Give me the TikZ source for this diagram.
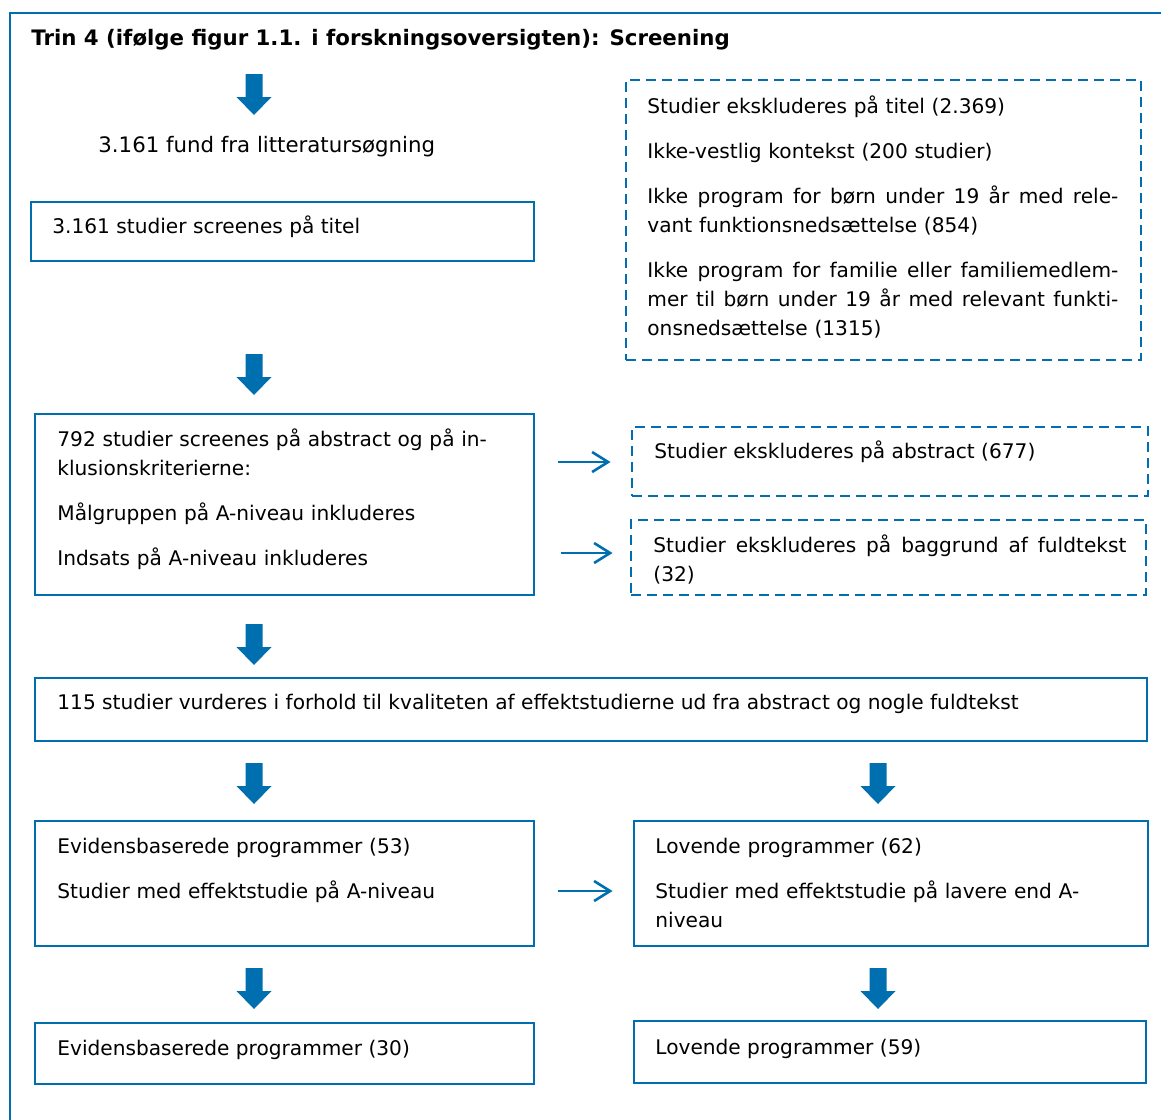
\documentclass[tikz,border=0pt]{standalone}
\usepackage{fontspec}
\setmainfont{DejaVu Sans}
\usetikzlibrary{fit}
\usetikzlibrary{arrows.meta}

\definecolor{rblue}{RGB}{0,111,176}
\newcommand{\fullline}[2]{\leavevmode\hbox to #1{\spaceskip=0pt\xspaceskip=0pt #2}}
\tikzset{
  box/.style={draw=rblue, line width=1.45pt, inner sep=0pt},
  exclbox/.style={box, dash pattern=on 5pt off 3pt},
  txt/.style={anchor=base west, inner sep=0pt, align=left, font=\fontsize{10.07}{14.5}\selectfont},
  thinarrow/.style={draw=rblue, line width=1.3pt, -{Straight Barb[length=8pt,width=10pt]}},
  downarrow/.pic={\fill[rblue] (-8.5,0) -- (8.5,0) -- (8.5,23) -- (17.5,23) -- (0,41) -- (-17.5,23) -- (-8.5,23) -- cycle;}
}

\begin{document}
\begin{tikzpicture}[x=0.5pt, y=-0.5pt]
  \useasboundingbox (0,0) rectangle (1161,1119);
  % frame
  \coordinate (frametop) at (1175,13);
  \coordinate (framecorner) at (10,13);
  \coordinate (framebottom) at (10,1130);
  \draw[rblue, line width=1.45pt] (frametop) -- (framecorner) -- (framebottom);
  \node[txt, font=\fontsize{10.65}{14.5}\selectfont\bfseries] (title) at (31,46) {Trin 4 (ifølge figur 1.1. i forskningsoversigten): Screening};

  % screening on title
  \pic at (254,74) {downarrow};
  \node[txt, font=\fontsize{10.65}{14.5}\selectfont] (found) at (98,152) {3.161 fund fra litteratursøgning};
  \node[box, fit={(31,202) (534,261)}] (titlebox) {};
  \node[txt] (titletxt) at (52,233) {3.161 studier screenes på titel};
  \node[exclbox, fit={(626,80) (1141,360)}] (excltitle) {};
  \node[txt, text width=235.5pt] (excltitletxt) at (647,113) {Studier ekskluderes på titel (2.369)\\[8pt]Ikke-vestlig kontekst (200 studier)\\[8pt]\fullline{235.5pt}{Ikke program for børn under 19 år med rele-}\\vant funktionsnedsættelse (854)\\[8pt]\fullline{235.5pt}{Ikke program for familie eller familiemedlem-}\\\fullline{235.5pt}{mer til børn under 19 år med relevant funkti-}\\onsnedsættelse (1315)};

  % screening on abstract
  \pic at (254,354) {downarrow};
  \node[box, fit={(35,414) (534,595)}] (abstractbox) {};
  \node[txt, text width=230pt] (abstracttxt) at (57,446) {792 studier screenes på abstract og på in-\\klusionskriterierne:\\[8pt]Målgruppen på A-niveau inkluderes\\[8pt]Indsats på A-niveau inkluderes};
  \node[exclbox, fit={(632,427) (1148,496)}] (exclabstract) {};
  \node[txt] (exclabstracttxt) at (654,458) {Studier ekskluderes på abstract (677)};
  \node[exclbox, fit={(631,520) (1146,595)}] (exclfull) {};
  \node[txt, text width=236.5pt] (exclfulltxt) at (653,552) {\fullline{236.5pt}{Studier ekskluderes på baggrund af fuldtekst}\\(32)};
  \draw[thinarrow, shorten <=11.5pt, shorten >=10pt] (abstractbox.east |- 0,462) -- (exclabstract.west |- 0,462);
  \draw[thinarrow, shorten <=13pt, shorten >=8.5pt] (abstractbox.east |- 0,553) -- (exclfull.west |- 0,553);

  % quality
  \pic at (254,624) {downarrow};
  \node[box, fit={(35,678) (1147,741)}] (qualitybox) {};
  \node[txt] (qualitytxt) at (57,709) {115 studier vurderes i forhold til kvaliteten af effektstudierne ud fra abstract og nogle fuldtekst};
  \pic at (254,763) {downarrow};
  \pic at (878,763) {downarrow};

  % evidence based and promising
  \node[box, fit={(35,821) (534,946)}] (evidence) {};
  \node[txt, text width=230pt] (evidencetxt) at (57,853) {Evidensbaserede programmer (53)\\[8pt]Studier med effektstudie på A-niveau};
  \node[box, fit={(634,821) (1148,946)}] (promising) {};
  \node[txt, text width=235pt] (promisingtxt) at (655,853) {Lovende programmer (62)\\[8pt]Studier med effektstudie på lavere end A-\\niveau};
  \draw[thinarrow, shorten <=11.5pt, shorten >=10pt] (evidence.east |- 0,891) -- (promising.west |- 0,891);
  \pic at (254,968) {downarrow};
  \pic at (878,968) {downarrow};
  \node[box, fit={(35,1023) (534,1084)}] (evidencefinal) {};
  \node[txt] (evidencefinaltxt) at (57,1055) {Evidensbaserede programmer (30)};
  \node[box, fit={(634,1021) (1146,1083)}] (promisingfinal) {};
  \node[txt] (promisingfinaltxt) at (655,1054) {Lovende programmer (59)};
\end{tikzpicture}
\end{document}
